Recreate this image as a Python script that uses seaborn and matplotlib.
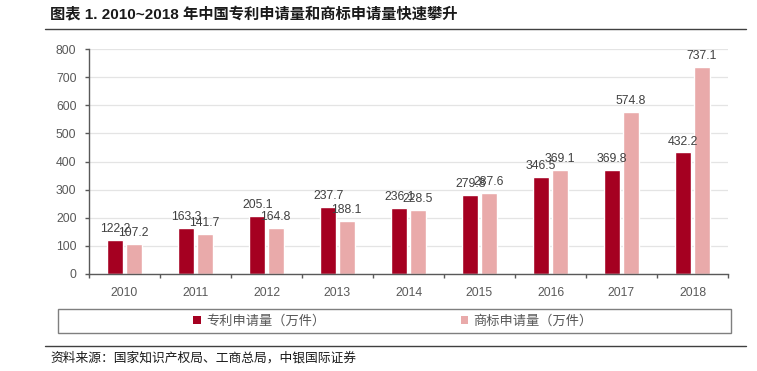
import matplotlib
matplotlib.use("Agg")
import matplotlib.pyplot as plt
import pandas as pd
import seaborn as sns
from matplotlib.lines import Line2D
from matplotlib.patches import Rectangle

years = ["2010", "2011", "2012", "2013", "2014", "2015", "2016", "2017", "2018"]
patent_apps = [122.2, 163.3, 205.1, 237.7, 236.1, 279.8, 346.5, 369.8, 432.2]
trademark_apps = [107.2, 141.7, 164.8, 188.1, 228.5, 287.6, 369.1, 574.8, 737.1]
series_names = ["专利申请量（万件）", "商标申请量（万件）"]
yticks = [0, 100, 200, 300, 400, 500, 600, 700, 800]

title = "图表 1. 2010~2018 年中国专利申请量和商标申请量快速攀升"
source = "资料来源：国家知识产权局、工商总局，中银国际证券"

DARK_RED = "#A50021"
PINK = "#E9AAAA"
GREY_TXT = "#595959"
AXIS_CLR = "#595959"

df = pd.DataFrame({
    "year": years * 2,
    "value": patent_apps + trademark_apps,
    "series": [series_names[0]] * len(years) + [series_names[1]] * len(years),
})

sns.set_style("white")
plt.rcParams["font.family"] = ["Liberation Sans", "Noto Sans CJK SC", "DejaVu Sans"]

fig = plt.figure(figsize=(7.57, 3.71), dpi=100)
ax = fig.add_axes([89 / 757, 1 - 274 / 371, (728 - 89) / 757, (274 - 49) / 371])

sns.barplot(
    data=df, x="year", y="value", hue="series", hue_order=series_names,
    palette=[DARK_RED, PINK], width=0.52, gap=0.12, saturation=1,
    legend=False, ax=ax,
)

for container in ax.containers:
    ax.bar_label(container, fmt="%.1f", padding=3.5, fontsize=8.8, color="#404040")

ax.set_xlim(-0.5, len(years) - 0.5)
ax.set_ylim(0, 800)
ax.set_yticks(yticks)
ax.set_xlabel("")
ax.set_ylabel("")

ax.yaxis.grid(True, color="#e4e4e4", linewidth=0.9)
ax.set_axisbelow(True)
for side in ["top", "right"]:
    ax.spines[side].set_visible(False)
for side in ["left", "bottom"]:
    ax.spines[side].set_color(AXIS_CLR)
    ax.spines[side].set_linewidth(1.0)

ax.tick_params(axis="y", direction="out", length=3, width=1, color=AXIS_CLR,
               labelsize=8.8, labelcolor=GREY_TXT, pad=6, left=True)
ax.set_xticks(range(len(years)))
ax.set_xticks([i - 0.5 for i in range(len(years) + 1)], minor=True)
ax.tick_params(axis="x", which="major", length=0, labelsize=8.8, labelcolor=GREY_TXT, pad=9)
ax.tick_params(axis="x", which="minor", direction="out", length=3, width=1,
               color=AXIS_CLR, bottom=True)

# title and rules
fig.text(50 / 757, 1 - 14 / 371, title, fontsize=11, fontweight="bold",
         color="#1a1a1a", va="center", ha="left")
fig.add_artist(Line2D([45 / 757, 746 / 757], [1 - 29 / 371, 1 - 29 / 371],
                      color="#404040", linewidth=1.0, transform=fig.transFigure))
fig.add_artist(Line2D([45 / 757, 746 / 757], [1 - 346 / 371, 1 - 346 / 371],
                      color="#404040", linewidth=1.0, transform=fig.transFigure))

# legend box
fig.add_artist(Rectangle((58 / 757, 1 - 333 / 371), (731 - 58) / 757, 24 / 371,
                         transform=fig.transFigure, fill=False,
                         edgecolor="#7f7f7f", linewidth=1.0))
handles = [Rectangle((0, 0), 1, 1, facecolor=c, edgecolor="none") for c in [DARK_RED, PINK]]
fig.legend(handles, series_names, loc="center", bbox_to_anchor=(393 / 757, 1 - 321 / 371),
           ncol=2, frameon=False, labelcolor=GREY_TXT,
           handlelength=0.55, handleheight=0.55, handletextpad=0.4, columnspacing=10.3,
           prop={"family": ["Noto Sans CJK SC"], "size": 9.5})

fig.text(50 / 757, 1 - 358 / 371, source, fontsize=9.2, color="#1a1a1a",
         va="center", ha="left", family=["Noto Sans CJK SC"])

fig.savefig("out.png", dpi=100)
